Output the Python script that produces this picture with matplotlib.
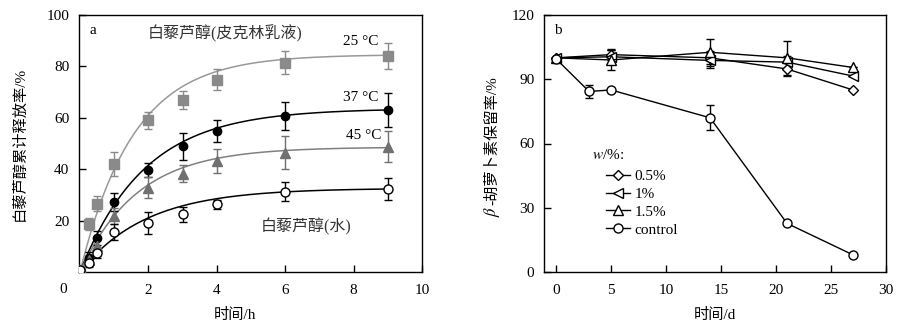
import numpy as np
import matplotlib
matplotlib.use('Agg')
import matplotlib.pyplot as plt
from matplotlib.lines import Line2D

plt.rcParams['font.family'] = ['Liberation Serif', 'Noto Sans CJK SC']
plt.rcParams['mathtext.fontset'] = 'stix'
plt.rcParams['font.size'] = 11
plt.rcParams['xtick.direction'] = 'in'
plt.rcParams['ytick.direction'] = 'in'

# ---- panel a: release of resveratrol
t_h = [0, 0.25, 0.5, 1, 2, 3, 4, 6, 9]
rel_25 = [0.8, 18.8, 26.6, 42, 59, 67, 74.8, 81.5, 84]
err_25 = [0, 2.4, 3.0, 4.5, 3.3, 3.5, 4.0, 4.5, 5.0]
rel_37 = [0.8, 5.6, 13.2, 27.2, 39.6, 48.9, 54.8, 60.6, 62.9]
err_37 = [0, 2.0, 2.6, 3.6, 2.8, 5.2, 4.3, 5.4, 6.6]
rel_45 = [0.8, 4.6, 10.2, 21.8, 32.8, 38.2, 43.2, 46.4, 48.7]
err_45 = [0, 2.0, 2.5, 3.2, 4.2, 3.3, 4.8, 6.5, 6.0]
rel_w = [0.8, 3.5, 7.5, 15.6, 19.2, 22.4, 26.4, 31.3, 32.2]
err_w = [0, 1.5, 2.0, 3.0, 4.3, 2.8, 1.7, 3.6, 4.2]

# fitted first-order release curves: A * (1 - exp(-k t))
fit_A = [84.6, 63.6, 48.6, 32.6]
fit_k = [0.64, 0.53, 0.60, 0.52]

# ---- panel b: beta-carotene retention
d_ctrl = [0, 3, 5, 14, 21, 27]
ret_ctrl = [99.5, 84.3, 85, 72, 22.7, 8]
err_ctrl = [0, 3.2, 0, 5.8, 0, 0]
d = [0, 5, 14, 21, 27]
ret_05 = [100, 101.5, 100, 94.8, 85]
err_05 = [0, 2.5, 3.0, 3.5, 0]
ret_1 = [100, 100.5, 98.8, 98, 91.5]
err_1 = [0, 3.0, 3.5, 3.0, 0]
ret_15 = [100, 99, 102.6, 100, 95.5]
err_15 = [0, 4.6, 6.2, 8.0, 0]

fig = plt.figure(figsize=(9.06, 3.27), dpi=100)
ax1 = fig.add_axes([79/906, 1-272/327, 343/906, 257/327])
ax2 = fig.add_axes([544/906, 1-272/327, 342/906, 257/327])

tt = np.linspace(0, 9, 200)
series = [
    (rel_25, err_25, 's', '#8a8a8a', '#8a8a8a', 6.5, '#999999'),
    (rel_37, err_37, 'o', 'black', 'black', 6.0, 'black'),
    (rel_45, err_45, '^', '#707070', '#707070', 6.5, '#808080'),
    (rel_w, err_w, 'o', 'white', 'black', 6.5, 'black'),
]
for (vals, errs, mk, fc, ec, ms, lc), A, k in zip(series, fit_A, fit_k):
    ax1.plot(tt, A * (1 - np.exp(-k * tt)), color=lc, lw=1.1, zorder=2)
    ax1.errorbar(t_h, vals, yerr=errs, fmt=mk, mfc=fc, mec=ec, ms=ms,
                 ecolor=ec, elinewidth=1, capsize=2.6, capthick=1, zorder=3)

ax1.set_xlim(-0.03, 10)
ax1.set_ylim(0, 100)
ax1.set_xticks([2, 4, 6, 8, 10])
ax1.set_yticks([20, 40, 60, 80, 100])
ax1.text(-0.047, -0.07, '0', transform=ax1.transAxes, ha='center', va='center')
ax1.set_xlabel('时间/h')
ax1.set_ylabel('白藜芦醇累计释放率/%')
ax1.xaxis.set_label_coords(0.455, -0.14)
ax1.yaxis.set_label_coords(-0.152, 0.5)
ax1.text(0.03, 0.94, 'a', transform=ax1.transAxes, ha='left', va='center')
ax1.text(4.25, 92.8, '白藜芦醇(皮克林乳液)', ha='center', va='center',
         color='#333333', fontsize=11.5)
ax1.text(8.2, 89.5, '25 °C', ha='center', va='center')
ax1.text(8.2, 67.8, '37 °C', ha='center', va='center')
ax1.text(8.3, 53.3, '45 °C', ha='center', va='center')
ax1.text(6.6, 17.6, '白藜芦醇(水)', ha='center', va='center',
         color='#333333', fontsize=11.5)

ax2.errorbar(d, ret_05, yerr=err_05, fmt='-D', color='black', mfc='white', mec='black',
             ms=5.5, lw=1, elinewidth=1, capsize=2.6, zorder=3)
ax2.errorbar(d, ret_1, yerr=err_1, fmt='-<', color='black', mfc='white', mec='black',
             ms=6.5, lw=1, elinewidth=1, capsize=2.6, zorder=3)
ax2.errorbar(d, ret_15, yerr=err_15, fmt='-^', color='black', mfc='white', mec='black',
             ms=6.5, lw=1, elinewidth=1, capsize=2.6, zorder=3)
ax2.errorbar(d_ctrl, ret_ctrl, yerr=err_ctrl, fmt='-o', color='black', mfc='white', mec='black',
             ms=6.5, lw=1, elinewidth=1, capsize=2.6, zorder=3)

ax2.set_xlim(-1.1, 30)
ax2.set_ylim(0, 120)
ax2.set_xticks([0, 5, 10, 15, 20, 25, 30])
ax2.set_yticks([0, 30, 60, 90, 120])
ax2.set_xlabel('时间/d')
ax2.xaxis.set_label_coords(0.5, -0.14)
# y label: italic beta (math) + CJK text, drawn as two pieces
ax2.text(-0.152, 0.215, r'$\beta$', transform=ax2.transAxes, rotation=90,
         rotation_mode='anchor', ha='left', va='center', fontsize=12)
ax2.text(-0.152, 0.26, '-胡萝卜素保留率/%', transform=ax2.transAxes, rotation=90,
         rotation_mode='anchor', ha='left', va='center')
ax2.text(0.03, 0.94, 'b', transform=ax2.transAxes, ha='left', va='center')
ax2.text(0.14, 0.455, r'$w$/%:', transform=ax2.transAxes, ha='left', va='center')

handles = [Line2D([], [], color='black', lw=1, marker=m, mfc='white', mec='black', ms=s)
           for m, s in zip(['D', '<', '^', 'o'], [5.5, 6.5, 6.5, 6.5])]
ax2.legend(handles, ['0.5%', '1%', '1.5%', 'control'], loc='upper left',
           bbox_to_anchor=(0.18, 0.4), frameon=False, borderpad=0,
           handlelength=1.6, handletextpad=0.3, labelspacing=0.28, borderaxespad=0)

for ax in (ax1, ax2):
    for s in ax.spines.values():
        s.set_linewidth(1)
    ax.tick_params(length=5, width=1)
    ax.tick_params(axis='x', pad=9)
    ax.tick_params(axis='y', pad=7)

fig.savefig('out.png', dpi=100)
